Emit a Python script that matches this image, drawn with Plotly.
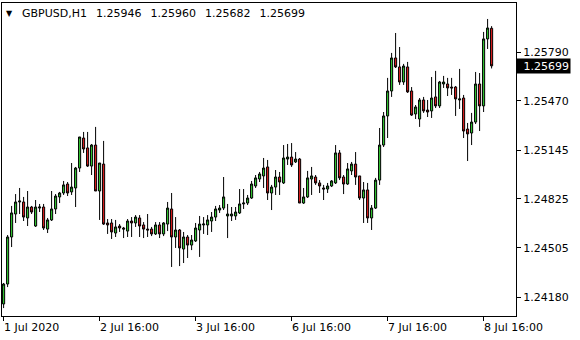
import plotly.graph_objects as go

symbol = "GBPUSD,H1"

opens = [1.24135, 1.24266, 1.24575, 1.24726, 1.24805, 1.24805, 1.24700, 1.24772, 1.24647, 1.24765,
         1.24772, 1.24627, 1.24687, 1.24759, 1.24838, 1.24864, 1.24923, 1.24871, 1.24897, 1.25028,
         1.25225, 1.25160, 1.25041, 1.25179, 1.24877, 1.25054, 1.24667, 1.24667, 1.24601, 1.24647,
         1.24634, 1.24614, 1.24680, 1.24667, 1.24700, 1.24654, 1.24627, 1.24627, 1.24595, 1.24654,
         1.24595, 1.24660, 1.24759, 1.24575, 1.24621, 1.24496, 1.24575, 1.24522, 1.24549, 1.24621,
         1.24654, 1.24654, 1.24680, 1.24706, 1.24752, 1.24765, 1.24713, 1.24713, 1.24713, 1.24733,
         1.24792, 1.24798, 1.24831, 1.24910, 1.24956, 1.24976, 1.25035, 1.24864, 1.24903, 1.24969,
         1.24930, 1.25087, 1.25100, 1.25068, 1.25087, 1.24798, 1.24838, 1.24956, 1.24969, 1.24930,
         1.24897, 1.24890, 1.24910, 1.24930, 1.25127, 1.24969, 1.24923, 1.25009, 1.25054, 1.24976,
         1.24831, 1.24884, 1.24700, 1.24765, 1.24949, 1.25179, 1.25370, 1.25534, 1.25751, 1.25692,
         1.25593, 1.25692, 1.25534, 1.25383, 1.25350, 1.25475, 1.25409, 1.25403, 1.25495, 1.25436,
         1.25580, 1.25580, 1.25560, 1.25560, 1.25475, 1.25488, 1.25284, 1.25258, 1.25330, 1.25580,
         1.25436, 1.25876, 1.25946]

highs = [1.24273, 1.24588, 1.24779, 1.24857, 1.24897, 1.24838, 1.24877, 1.24779, 1.24818, 1.24792,
         1.24792, 1.24700, 1.24877, 1.24857, 1.24871, 1.24943, 1.24936, 1.25061, 1.25035, 1.25232,
         1.25265, 1.25265, 1.25186, 1.25298, 1.25061, 1.25206, 1.24693, 1.24693, 1.24687, 1.24660,
         1.24641, 1.24693, 1.24706, 1.24719, 1.24719, 1.24673, 1.24726, 1.24641, 1.24673, 1.24673,
         1.24673, 1.24805, 1.24864, 1.24706, 1.24627, 1.24608, 1.24588, 1.24588, 1.24667, 1.24713,
         1.24706, 1.24719, 1.24739, 1.24779, 1.24785, 1.24969, 1.24792, 1.24772, 1.24772, 1.24890,
         1.24890, 1.24851, 1.24943, 1.24982, 1.25002, 1.25094, 1.25081, 1.24917, 1.25015, 1.25002,
         1.25179, 1.25186, 1.25192, 1.25133, 1.25094, 1.24897, 1.25009, 1.25035, 1.24982, 1.24949,
         1.24917, 1.24930, 1.24949, 1.25179, 1.25146, 1.24982, 1.25061, 1.25068, 1.25133, 1.24976,
         1.24936, 1.24930, 1.24785, 1.24963, 1.25291, 1.25396, 1.25620, 1.25784, 1.25915, 1.25823,
         1.25712, 1.25725, 1.25560, 1.25442, 1.25488, 1.25495, 1.25475, 1.25626, 1.25666, 1.25600,
         1.25633, 1.25620, 1.25620, 1.25567, 1.25679, 1.25508, 1.25324, 1.25390, 1.25659, 1.25652,
         1.25922, 1.26007, 1.25960]

lows = [1.24108, 1.24246, 1.24509, 1.24667, 1.24726, 1.24680, 1.24647, 1.24726, 1.24641, 1.24739,
        1.24621, 1.24601, 1.24680, 1.24726, 1.24798, 1.24851, 1.24844, 1.24851, 1.24772, 1.25002,
        1.25127, 1.25035, 1.24982, 1.24877, 1.24687, 1.24654, 1.24595, 1.24562, 1.24575, 1.24608,
        1.24568, 1.24575, 1.24575, 1.24641, 1.24575, 1.24568, 1.24575, 1.24581, 1.24588, 1.24568,
        1.24581, 1.24614, 1.24378, 1.24503, 1.24384, 1.24404, 1.24437, 1.24489, 1.24542, 1.24444,
        1.24595, 1.24588, 1.24608, 1.24680, 1.24733, 1.24752, 1.24568, 1.24680, 1.24687, 1.24726,
        1.24759, 1.24785, 1.24825, 1.24897, 1.24936, 1.24897, 1.24818, 1.24752, 1.24851, 1.24851,
        1.24923, 1.25048, 1.25035, 1.25061, 1.24798, 1.24792, 1.24831, 1.24851, 1.24917, 1.24864,
        1.24818, 1.24864, 1.24903, 1.24923, 1.24949, 1.24857, 1.24917, 1.24982, 1.24917, 1.24818,
        1.24667, 1.24667, 1.24621, 1.24759, 1.24917, 1.25166, 1.25225, 1.25495, 1.25685, 1.25574,
        1.25574, 1.25521, 1.25370, 1.25350, 1.25298, 1.25390, 1.25363, 1.25357, 1.25422, 1.25422,
        1.25554, 1.25501, 1.25508, 1.25370, 1.25416, 1.25225, 1.25074, 1.25179, 1.25317, 1.25271,
        1.25396, 1.25810, 1.25682]

closes = [1.24266, 1.24575, 1.24733, 1.24805, 1.24811, 1.24706, 1.24772, 1.24739, 1.24772, 1.24772,
          1.24634, 1.24687, 1.24759, 1.24844, 1.24864, 1.24917, 1.24864, 1.24903, 1.25028, 1.25232,
          1.25153, 1.25041, 1.25179, 1.24877, 1.25061, 1.24660, 1.24654, 1.24608, 1.24641, 1.24634,
          1.24627, 1.24680, 1.24667, 1.24706, 1.24647, 1.24627, 1.24621, 1.24595, 1.24654, 1.24595,
          1.24667, 1.24765, 1.24575, 1.24621, 1.24503, 1.24575, 1.24522, 1.24555, 1.24634, 1.24660,
          1.24660, 1.24687, 1.24706, 1.24759, 1.24765, 1.24838, 1.24726, 1.24726, 1.24739, 1.24792,
          1.24798, 1.24831, 1.24923, 1.24963, 1.24989, 1.25028, 1.24864, 1.24903, 1.24969, 1.24936,
          1.25094, 1.25100, 1.25048, 1.25087, 1.24798, 1.24838, 1.24963, 1.24976, 1.24930, 1.24910,
          1.24890, 1.24910, 1.24943, 1.25127, 1.24963, 1.24923, 1.25022, 1.25054, 1.24969, 1.24831,
          1.24884, 1.24700, 1.24765, 1.24949, 1.25179, 1.25370, 1.25534, 1.25751, 1.25692, 1.25593,
          1.25698, 1.25528, 1.25376, 1.25429, 1.25475, 1.25403, 1.25396, 1.25488, 1.25436, 1.25593,
          1.25593, 1.25554, 1.25554, 1.25482, 1.25482, 1.25271, 1.25252, 1.25330, 1.25580, 1.25436,
          1.25876, 1.25948, 1.25699]

price_ticks = [1.24180, 1.24505, 1.24825, 1.25145, 1.25470, 1.25790]
price_tick_labels = ["1.24180", "1.24505", "1.24825", "1.25145", "1.25470", "1.25790"]
time_tick_pos = [0, 24, 48, 72, 96, 120]
time_tick_labels = ["1 Jul 2020", "2 Jul 16:00", "3 Jul 16:00", "6 Jul 16:00", "7 Jul 16:00", "8 Jul 16:00"]

FONT = "DejaVu Sans"
x = list(range(len(opens)))

fig = go.Figure(go.Candlestick(
    x=x, open=opens, high=highs, low=lows, close=closes,
    increasing=dict(line=dict(color="black", width=1), fillcolor="#32c832"),
    decreasing=dict(line=dict(color="black", width=1), fillcolor="#dc1e1e"),
    whiskerwidth=0, hoverinfo="skip", showlegend=False,
))

fig.update_layout(
    width=580, height=340,
    margin=dict(l=2, r=64, t=3, b=24),
    paper_bgcolor="white", plot_bgcolor="white",
    boxgap=0.25,
    font=dict(family=FONT, size=11, color="black"),
    xaxis=dict(
        range=[-0.4, 128.1], rangeslider=dict(visible=False),
        showgrid=False, zeroline=False,
        showline=True, linecolor="black", linewidth=1, mirror=True,
        ticks="outside", ticklen=4, tickcolor="black",
        tickvals=time_tick_pos, showticklabels=False,
    ),
    yaxis=dict(
        side="right", range=[1.24056, 1.26112],
        showgrid=False, zeroline=False,
        showline=True, linecolor="black", linewidth=1, mirror=True,
        ticks="outside", ticklen=4, tickcolor="black",
        tickvals=price_ticks, ticktext=price_tick_labels,
        tickfont=dict(family=FONT, size=11, color="black"),
    ),
)

for pos, lab in zip(time_tick_pos, time_tick_labels):
    fig.add_annotation(x=pos, y=0, xref="x", yref="paper", text=lab,
                       showarrow=False, xanchor="left", yanchor="middle",
                       xshift=-2, yshift=-11,
                       font=dict(family=FONT, size=11, color="black"))

last = len(opens) - 1
gap = " \u2002"
header = gap.join([symbol] + ["%.5f" % v for v in (opens[last], highs[last], lows[last], closes[last])])
fig.add_annotation(x=0, y=1, xref="paper", yref="paper", text="\u25BC",
                   showarrow=False, xanchor="left", yanchor="middle",
                   xshift=2, yshift=-10, font=dict(family="DejaVu Sans", size=8, color="black"))
fig.add_annotation(x=0, y=1, xref="paper", yref="paper", text=header,
                   showarrow=False, xanchor="left", yanchor="middle",
                   xshift=18, yshift=-10, font=dict(family=FONT, size=11, color="black"))

fig.add_annotation(x=1, y=closes[last], xref="paper", yref="y",
                   text="%.5f" % closes[last], showarrow=False,
                   xanchor="left", yanchor="middle", xshift=0,
                   bgcolor="black", borderpad=1, width=51, height=12, align="right",
                   font=dict(family=FONT, size=11, color="white"))

fig.write_html("out.html")
